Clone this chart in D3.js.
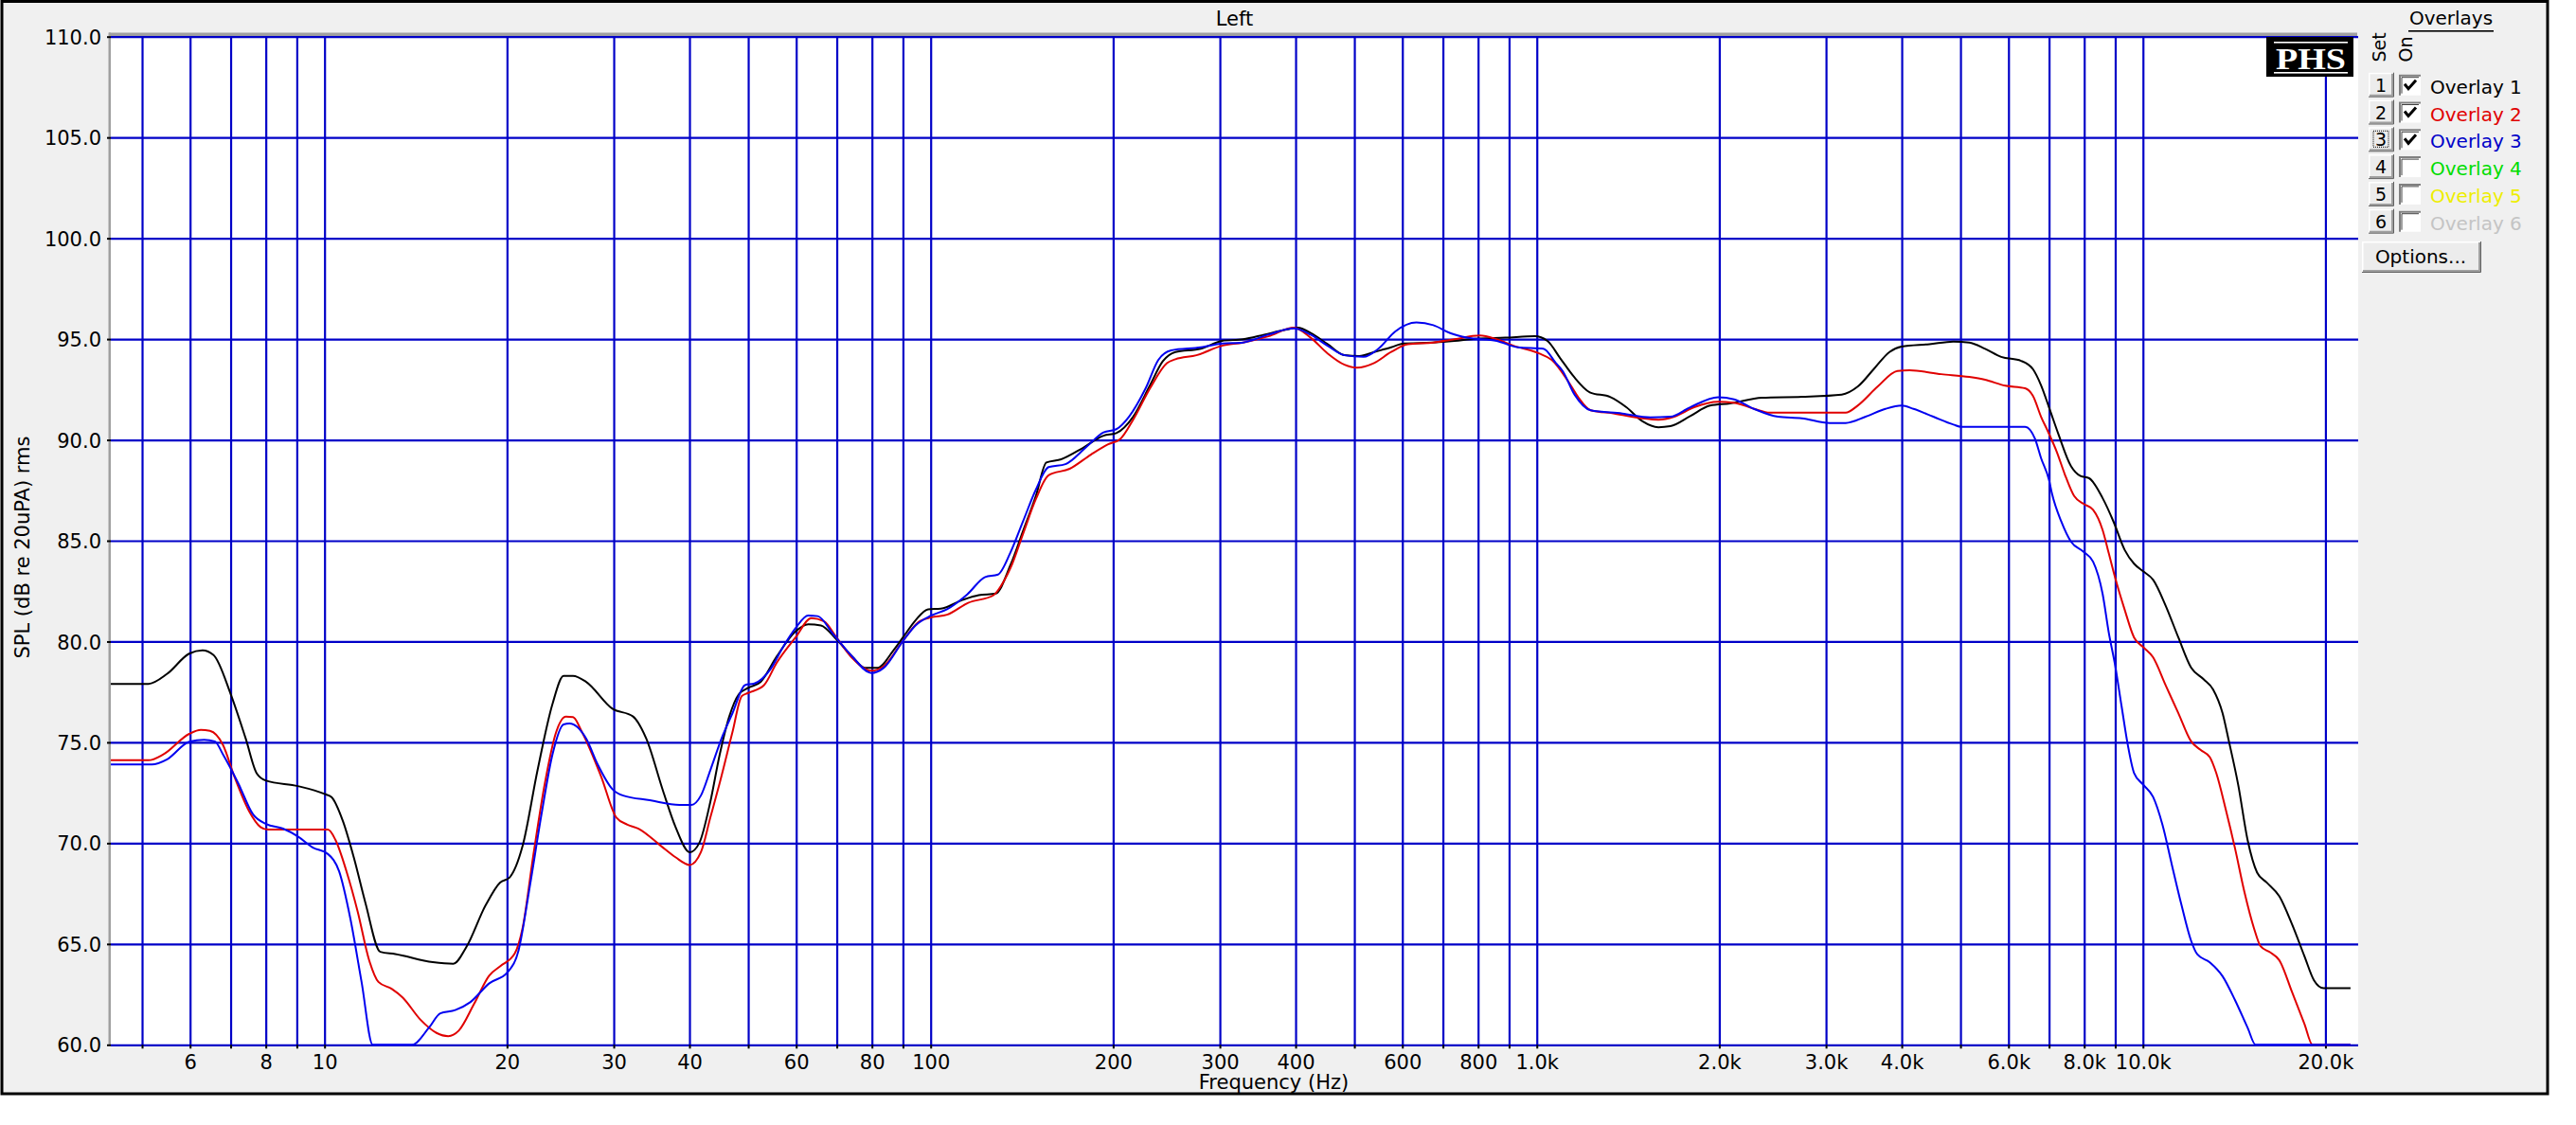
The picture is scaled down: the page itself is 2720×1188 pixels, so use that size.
<!DOCTYPE html>
<html><head><meta charset="utf-8">
<script src="https://cdn.jsdelivr.net/npm/d3@7"></script>
<style>
body{margin:0;background:#fff}
svg text{font-family:"DejaVu Sans",sans-serif}
svg text.logo{font-family:"Liberation Serif","DejaVu Serif",serif}
</style>
</head><body>
<svg id="c" width="2720" height="1188"></svg>
<script>
// ---------------- DATA ----------------
const overlay1Freq = [4.44,5.12,5.5,5.98,6.29,6.56,7.0,7.41,7.73,8.01,9.04,10.0,10.27,10.72,11.19,11.68,12.36,13.08,15.09,16.31,17.14,18.41,19.48,20.2,21.22,22.46,23.77,24.8,25.7,27.02,29.85,32.28,33.93,36.17,37.94,40.05,41.51,43.3,44.87,46.53,48.23,50.0,52.44,55.7,59.84,62.8,65.9,69.93,74.27,77.9,81.7,86.8,90.0,94.4,99.0,103.9,113.0,120.0,128.0,135.4,142.1,149.2,155.2,164.2,178.0,192.8,202.4,215.8,230.1,241.4,253.4,279.0,302.4,327.6,355.0,384.6,403.6,423.6,451.6,481.6,509.5,539.0,575.0,603.1,643.2,731.3,792.5,886.8,992.2,1041,1093,1150,1223,1323,1405,1494,1587,1661,1791,1931,2084,2351,2736,3184,3383,3594,3818,3996,4443,4867,5169,5491,5836,6295,6587,6790,6998,7250,7608,7887,8150,8577,8944,9327,9668,10020,10390,10900,11440,12000,12590,13050,13530,13860,14360,14890,15430,16000,16790,17620,18470,19150,19860,22000];
const overlay1Db = [77.9,77.9,78.4,79.4,79.56,79.33,77.4,75.2,73.46,73.1,72.83,72.44,72.28,71.1,69.23,67.04,64.61,64.5,64.1,64.02,64.85,66.88,68.05,68.3,69.86,73.62,76.9,78.3,78.3,78.0,76.67,76.28,75.2,72.6,70.8,69.55,70.0,72.05,74.4,76.28,77.38,77.7,78.0,79.25,80.5,80.86,80.8,80.1,79.25,78.7,78.7,79.56,80.2,81.05,81.6,81.63,82.07,82.3,82.38,83.79,85.5,87.24,88.88,89.04,89.59,90.21,90.34,91.15,92.71,93.89,94.36,94.52,94.91,94.99,95.22,95.46,95.57,95.3,94.75,94.2,94.16,94.36,94.59,94.78,94.8,94.91,95.02,95.07,95.14,94.91,94.05,93.15,92.36,92.12,91.62,90.92,90.63,90.68,91.18,91.7,91.81,92.09,92.14,92.25,92.64,93.5,94.36,94.63,94.75,94.88,94.83,94.52,94.12,93.92,93.5,92.71,91.62,90.3,88.7,88.21,88.1,87.12,85.94,84.55,83.86,83.47,83.07,81.78,80.2,78.72,78.13,77.63,76.45,75.06,72.89,70.12,68.54,68.05,67.36,65.97,64.39,63.2,62.81,62.81];

const overlay2Freq = [4.44,5.12,5.42,5.98,6.25,6.47,6.8,7.1,7.51,7.84,8.07,10.13,10.42,10.87,11.35,11.84,12.27,12.9,13.46,14.4,15.3,16.0,16.65,17.65,18.7,19.5,20.6,21.22,22.1,23.1,24.1,25.0,25.7,26.6,28.6,30.3,31.6,32.96,35.9,37.94,40.05,41.77,43.3,44.87,47.09,48.8,50.0,53.1,55.7,59.84,63.56,66.69,69.93,74.27,79.8,83.7,90.0,95.5,100.2,106.4,115.3,127.0,132.1,135.4,142.1,149.2,156.5,169.6,183.8,195.9,205.6,215.8,230.1,245.3,253.4,274.5,302.4,327.6,360.7,397.3,423.6,451.6,481.6,505.3,539.0,575.0,612.9,674.9,731.3,805.3,858.8,915.6,1008,1058,1128,1172,1227,1343,1494,1587,1686,1818,1991,2113,2282,2425,2736,3232,3383,3649,3936,4120,4648,5169,5491,5926,6391,6587,6790,6975,7210,7428,7700,7980,8274,8577,8787,8997,9327,9668,10020,10390,10900,11440,12000,12440,12890,13210,13690,14190,14710,15250,15630,16200,16790,17620,18470,19040,22000];
const overlay2Db = [74.11,74.11,74.4,75.42,75.62,75.57,74.87,73.3,71.58,70.8,70.67,70.67,70.17,68.6,66.57,64.22,63.12,62.78,62.34,61.24,60.59,60.43,60.7,62.03,63.44,63.9,64.53,65.79,69.39,72.99,75.5,76.28,76.25,75.5,73.3,71.27,70.92,70.72,69.86,69.3,68.92,69.55,71.27,72.99,75.5,77.3,77.45,77.84,78.94,80.2,81.16,81.0,80.2,79.17,78.55,78.78,80.03,80.97,81.2,81.33,81.92,82.3,83.0,83.64,85.36,87.08,88.25,88.57,89.27,89.77,90.05,91.0,92.56,93.81,94.0,94.2,94.67,94.83,95.14,95.57,95.07,94.29,93.73,93.58,93.81,94.36,94.75,94.83,94.99,95.18,94.99,94.67,94.29,93.97,92.88,92.09,91.47,91.31,91.07,91.0,91.15,91.62,91.89,91.85,91.54,91.35,91.35,91.35,91.7,92.64,93.42,93.45,93.26,93.12,92.98,92.69,92.56,92.17,91.15,90.4,89.4,88.31,87.22,86.83,86.53,85.54,84.35,83.17,81.59,80.2,79.71,79.22,77.83,76.45,75.06,74.63,74.27,73.48,71.7,69.73,67.55,65.77,64.89,64.59,64.19,62.61,61.03,60.0,60.0];

const overlay3Freq = [4.44,5.19,5.5,5.98,6.33,6.59,6.8,7.2,7.62,8.01,8.54,9.04,9.57,10.13,10.57,11.03,11.51,12.01,13.94,14.87,15.52,16.43,17.39,18.7,20.03,20.9,21.8,22.8,23.77,24.8,25.35,27.02,28.2,29.85,31.1,34.4,38.5,40.3,41.77,43.3,45.2,47.09,49.4,51.2,54.38,57.05,59.84,62.8,65.08,69.1,74.27,79.8,83.7,90.0,94.4,100.2,106.4,115.0,123.0,129.1,135.4,142.1,149.2,156.5,166.9,180.8,192.8,202.4,212.4,226.3,237.5,249.3,279.0,302.4,327.6,360.7,397.3,423.6,451.6,481.6,517.6,547.8,584.2,632.9,674.9,719.7,767.4,858.8,930.7,1025,1075,1103,1154,1227,1384,1539,1661,1791,1991,2116,2282,2499,2736,3043,3232,3487,3760,3996,4183,4510,4867,5014,6391,6636,6790,6998,7080,7335,7608,7980,8274,8577,8787,8997,9215,9441,9668,10020,10390,10770,11160,11570,12000,12290,12890,13530,14190,14890,15340,22000];
const overlay3Db = [73.9,73.9,74.16,75.03,75.13,75.05,74.4,72.99,71.43,70.95,70.72,70.33,69.78,69.46,68.6,66.26,63.12,60.0,60.0,60.85,61.56,61.72,62.11,63.05,63.59,64.69,67.82,71.43,74.4,75.89,75.93,75.18,73.93,72.68,72.36,72.13,71.9,71.9,72.36,73.62,75.2,76.44,77.84,77.92,78.62,79.72,80.66,81.29,81.26,80.35,79.25,78.44,78.7,80.03,80.8,81.29,81.6,82.35,83.2,83.32,84.42,85.98,87.55,88.65,88.8,89.66,90.37,90.53,91.15,92.56,93.97,94.44,94.59,94.78,94.83,95.22,95.53,95.22,94.67,94.2,94.12,94.52,95.38,95.82,95.69,95.3,95.07,94.91,94.59,94.52,93.81,93.42,92.25,91.47,91.31,91.12,91.15,91.62,92.12,92.01,91.54,91.15,91.07,90.84,90.84,91.15,91.54,91.7,91.54,91.15,90.76,90.65,90.65,90.05,89.1,88.02,87.32,85.94,84.95,84.45,83.96,82.38,80.4,78.82,76.84,74.87,73.48,72.89,72.3,70.91,68.93,66.96,65.18,64.49,64.09,63.4,62.21,60.83,60.0,60.0];

const xGridValues = [5,6,7,8,9,10,20,30,40,50,60,70,80,90,100,200,300,400,500,600,700,800,900,1000,2000,3000,4000,5000,6000,7000,8000,9000,10000,20000];
const xLabelValues = [6,8,10,20,30,40,60,80,100,200,300,400,600,800,1000,2000,3000,4000,6000,8000,10000,20000];
const xLabelTexts  = ["6","8","10","20","30","40","60","80","100","200","300","400","600","800","1.0k","2.0k","3.0k","4.0k","6.0k","8.0k","10.0k","20.0k"];
const yTickValues = [60,65,70,75,80,85,90,95,100,105,110];

const chartTitle = "Left";
const xAxisTitle = "Frequency (Hz)";
const yAxisTitle = "SPL (dB re 20uPA) rms";
const legendTitle = "Overlays";
const legendLabels = ["Overlay 1","Overlay 2","Overlay 3","Overlay 4","Overlay 5","Overlay 6"];
const legendChecked = [true,true,true,false,false,false];

// ---------------- STYLE ----------------
const seriesColors = ["#000000","#e00000","#0000f0"];
const legendColors = ["#000000","#e00000","#0000c8","#00dd00","#eeee00","#c4c4c4"];
const gridColor = "#0000c8";

// ---------------- CHART ----------------
const svg = d3.select("#c");
const L = 117, R = 2490, T = 38.7, B = 1103.3;
const x = d3.scaleLog().domain([4.44, 22650]).range([L, R]);
const y = d3.scaleLinear().domain([60, 110]).range([B, T]);

// outer panel
svg.append("rect").attr("x",2).attr("y",1.5).attr("width",2688).attr("height",1153.5)
  .attr("fill","#f0f0f0").attr("stroke","#000").attr("stroke-width",3);

// plot background
svg.append("rect").attr("x",L).attr("y",T).attr("width",R-L).attr("height",B-T).attr("fill","#fff");
// sunken border (grey)
svg.append("rect").attr("x",L-2).attr("y",T-4.2).attr("width",R-L+1).attr("height",3.5).attr("fill","#a0a0a0");
svg.append("rect").attr("x",L-2.5).attr("y",T-4.2).attr("width",2.5).attr("height",B-T+5).attr("fill","#a0a0a0");

// title
svg.append("text").attr("x",(L+R)/2).attr("y",26.5).attr("text-anchor","middle")
  .attr("font-size",21).attr("fill","#000").text(chartTitle);

// grid lines via axes
const xGrid = svg.append("g").attr("transform",`translate(0,${B})`)
  .call(d3.axisBottom(x).tickValues(xGridValues).tickSize(-(B-T)).tickFormat(""));
xGrid.select(".domain").remove();
xGrid.selectAll("line").attr("stroke",gridColor).attr("stroke-width",2.2);

const yGrid = svg.append("g").attr("transform",`translate(${L},0)`)
  .call(d3.axisLeft(y).tickValues(yTickValues).tickSize(-(R-L)).tickFormat(""));
yGrid.select(".domain").remove();
yGrid.selectAll("line").attr("stroke",gridColor).attr("stroke-width",2.2);

// x axis ticks and labels
const labelMap = new Map(xLabelValues.map((v,i)=>[v,xLabelTexts[i]]));
const xAxis = svg.append("g").attr("transform",`translate(0,${B})`)
  .call(d3.axisBottom(x).tickValues(xGridValues).tickSize(4).tickFormat(d=>labelMap.get(d)||""));
xAxis.select(".domain").remove();
xAxis.selectAll("line").attr("stroke","#000").attr("stroke-width",2);
xAxis.selectAll("text").attr("y",26).attr("dy",0).attr("font-size",21).attr("fill","#000");

// y axis ticks and labels
const yAxis = svg.append("g").attr("transform",`translate(${L},0)`)
  .call(d3.axisLeft(y).tickValues(yTickValues).tickSize(4).tickFormat(d3.format(".1f")));
yAxis.select(".domain").remove();
yAxis.selectAll("line").attr("stroke","#000").attr("stroke-width",2);
yAxis.selectAll("text").attr("x",-10).attr("dy","0.36em").attr("font-size",21).attr("fill","#000");

// axis titles
svg.append("text").attr("x",1345).attr("y",1150).attr("text-anchor","middle")
  .attr("font-size",21).attr("fill","#000").text(xAxisTitle);
svg.append("text").attr("transform","translate(31,578) rotate(-90)").attr("text-anchor","middle")
  .attr("font-size",21).attr("fill","#000").text(yAxisTitle);

// curves
svg.append("clipPath").attr("id","plotclip").append("rect")
  .attr("x",L).attr("y",T-2).attr("width",R-L).attr("height",B-T+4);
const series = [
  {f:overlay1Freq, v:overlay1Db},
  {f:overlay2Freq, v:overlay2Db},
  {f:overlay3Freq, v:overlay3Db}
];
const line = d3.line().x(d=>x(d[0])).y(d=>y(d[1])).curve(d3.curveMonotoneX);
const curves = svg.append("g").attr("clip-path","url(#plotclip)");
series.forEach((s,i)=>{
  const pts = s.f.map((f,j)=>[f,s.v[j]]);
  curves.append("path").attr("d",line(pts)).attr("fill","none")
    .attr("stroke",seriesColors[i]).attr("stroke-width",2).attr("stroke-linejoin","round");
});

// PHS logo
const logo = svg.append("g");
logo.append("rect").attr("x",2393).attr("y",39).attr("width",92).attr("height",42).attr("fill","#000");
logo.append("rect").attr("x",2401).attr("y",44).attr("width",78).attr("height",1.6).attr("fill","#fff");
logo.append("rect").attr("x",2401).attr("y",76).attr("width",78).attr("height",1.6).attr("fill","#fff");
logo.append("text").attr("class","logo").attr("x",2440).attr("y",73).attr("text-anchor","middle")
  .attr("font-weight","bold").attr("font-size",32)
  .attr("textLength",74).attr("lengthAdjust","spacingAndGlyphs").attr("fill","#fff").text("PHS");

// legend
const lg = svg.append("g");
lg.append("text").attr("x",2588).attr("y",26).attr("text-anchor","middle").attr("font-size",20)
  .attr("fill","#000").text(legendTitle);
lg.append("rect").attr("x",2543).attr("y",32).attr("width",90).attr("height",1.6).attr("fill","#000");
lg.append("text").attr("transform","translate(2519,50) rotate(-90)").attr("text-anchor","middle")
  .attr("font-size",19).attr("fill","#000").text("Set");
lg.append("text").attr("transform","translate(2547,52) rotate(-90)").attr("text-anchor","middle")
  .attr("font-size",19).attr("fill","#000").text("On");

function button(g,x0,y0,w,h){
  g.append("rect").attr("x",x0).attr("y",y0).attr("width",w).attr("height",h).attr("fill","#ececec");
  g.append("path").attr("d",`M${x0+0.75},${y0+h} V${y0+0.75} H${x0+w}`).attr("stroke","#fff").attr("stroke-width",1.5).attr("fill","none");
  g.append("path").attr("d",`M${x0+1},${y0+h-1} H${x0+w-1} V${y0+1}`).attr("stroke","#a0a0a0").attr("stroke-width",2).attr("fill","none");
  g.append("path").attr("d",`M${x0},${y0+h+0.5} H${x0+w+0.5} V${y0}`).attr("stroke","#606060").attr("stroke-width",1).attr("fill","none");
}
legendLabels.forEach((lab,i)=>{
  const top = 76.7 + i*28.8;
  const row = lg.append("g");
  button(row,2501,top,26,25);
  row.append("text").attr("x",2514).attr("y",top+20).attr("text-anchor","middle")
    .attr("font-size",19).attr("fill","#000").text(String(i+1));
  if(i===2){
    row.append("rect").attr("x",2506).attr("y",top+4).attr("width",16).attr("height",17)
      .attr("fill","none").attr("stroke","#000").attr("stroke-width",1).attr("stroke-dasharray","1,1");
  }
  // checkbox
  const cx = 2533, cy = top+2;
  row.append("rect").attr("x",cx).attr("y",cy).attr("width",23).attr("height",22).attr("fill","#fff");
  row.append("path").attr("d",`M${cx+1},${cy+22} V${cy+1} H${cx+23}`).attr("stroke","#808080").attr("stroke-width",2).attr("fill","none");
  row.append("path").attr("d",`M${cx+3},${cy+20} V${cy+3} H${cx+21}`).attr("stroke","#404040").attr("stroke-width",1).attr("fill","none");
  if(legendChecked[i]){
    row.append("path").attr("d",`M${cx+6},${cy+10} L${cx+10},${cy+15} L${cx+18},${cy+6}`)
      .attr("stroke","#000").attr("stroke-width",3).attr("fill","none");
  }
  row.append("text").attr("x",2566).attr("y",top+22).attr("font-size",20)
    .attr("fill",legendColors[i]).text(lab);
});
// Options button
button(lg,2494,255,125,32);
lg.append("text").attr("x",2556).attr("y",278).attr("text-anchor","middle").attr("font-size",20)
  .attr("fill","#000").text("Options...");
</script>
</body></html>
